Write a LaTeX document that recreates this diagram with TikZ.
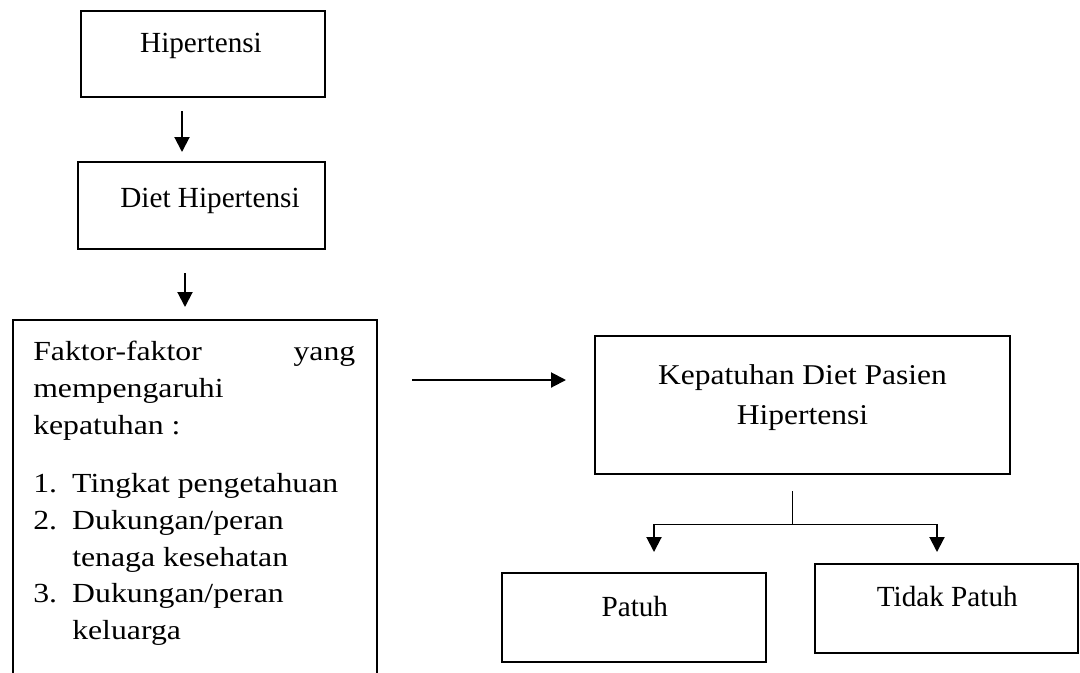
\documentclass[tikz,border=0pt]{standalone}
\usepackage{fontspec}
\setmainfont{Liberation Serif}
\newfontfamily\kepfont{Liberation Serif}[FakeStretch=1.10]
\newfontfamily\fakfont{Liberation Serif}[FakeStretch=1.15]
\usetikzlibrary{arrows.meta,calc}
\begin{document}
\begin{tikzpicture}[x=0.75pt,y=-0.75pt,
  box/.style={draw, line width=1.5pt, inner sep=0pt, fill=none},
  txt/.style={inner sep=0pt, font=\fontsize{21.9pt}{26pt}\selectfont},
  arr/.style={line width=1.5pt, -{Triangle[length=11.25pt,width=11.25pt]}},
  thinl/.style={line width=0.75pt}]
\path[use as bounding box, clip] (0,0) rectangle (1080,672);
\fill[white] (0,0) rectangle (1080,672);
% boxes
\node[box, minimum width=183pt, minimum height=64.5pt] (hip) at (203,54) {};
\node[box, minimum width=185.25pt, minimum height=65.25pt] (diet) at (201.5,205.5) {};
\node[box, minimum width=273pt, minimum height=277.5pt] (fak) at (195,505) {};
\node[box, minimum width=311.25pt, minimum height=103.5pt] (kep) at (802.5,405) {};
\node[box, minimum width=198pt, minimum height=66.75pt] (pat) at (634,617.5) {};
\node[box, minimum width=197.25pt, minimum height=66.75pt] (tid) at (946.5,608.5) {};
% texts
\node[txt, anchor=base] (hipl) at (201,52.7) {Hipertensi};
\node[txt, anchor=base] (dietl) at (210,207) {Diet Hipertensi};
\node[txt, anchor=base] (patl) at (634.8,616) {Patuh};
\node[txt, anchor=base] (tidl) at (947.3,606.7) {Tidak Patuh};
\node[inner sep=0pt, anchor=base] (kepl) at (802.5,384)
  {\parbox[t]{300pt}{\centering\kepfont\fontsize{21.5pt}{30pt}\selectfont Kepatuhan Diet Pasien\\Hipertensi}};
\node[inner sep=0pt, anchor=base west] (fakl) at (33,360.7)
  {\parbox[t]{241.5pt}{\fakfont\fontsize{20.7pt}{27.5pt}\selectfont\raggedright
  Faktor-faktor\hfill yang\\
  mempengaruhi\\
  kepatuhan :\\[16.5pt]
  \makebox[29.25pt][l]{1.}Tingkat pengetahuan\\
  \makebox[29.25pt][l]{2.}Dukungan/peran\\
  \hspace*{29.25pt}tenaga kesehatan\\
  \makebox[29.25pt][l]{3.}Dukungan/peran\\
  \hspace*{29.25pt}keluarga}};
% connectors
\coordinate (a1) at ($(hip.south)+(-21,0)$);
\draw[arr, shorten <=9.75pt, shorten >=6.75pt] (a1) -- (a1 |- diet.north);
\coordinate (a2) at ($(diet.south)+(-16.5,0)$);
\draw[arr, shorten <=17.25pt, shorten >=9pt] (a2) -- (a2 |- fak.north);
\coordinate (a3) at ($(fak.north east)+(0,61)$);
\draw[arr, shorten <=25.5pt, shorten >=21pt] (a3) -- (a3 -| kep.west);
\coordinate (b0) at ($(kep.south)+(-10.5,0)$);
\coordinate (b1) at ($(b0)+(0,49)$);
\draw[thinl, shorten <=12pt] (b0) -- (b1);
\coordinate (pl) at ($(pat.north)+(20,0)$);
\coordinate (tr) at ($(tid.north)+(-9.5,0)$);
\coordinate (bl) at (b1 -| pl);
\coordinate (bt) at (b1 -| tr);
\draw[thinl] (bl) -- (bt);
\draw[arr, shorten >=15pt] (bl) -- (pl);
\draw[arr, shorten >=8.25pt] (bt) -- (tr);
\end{tikzpicture}
\end{document}
